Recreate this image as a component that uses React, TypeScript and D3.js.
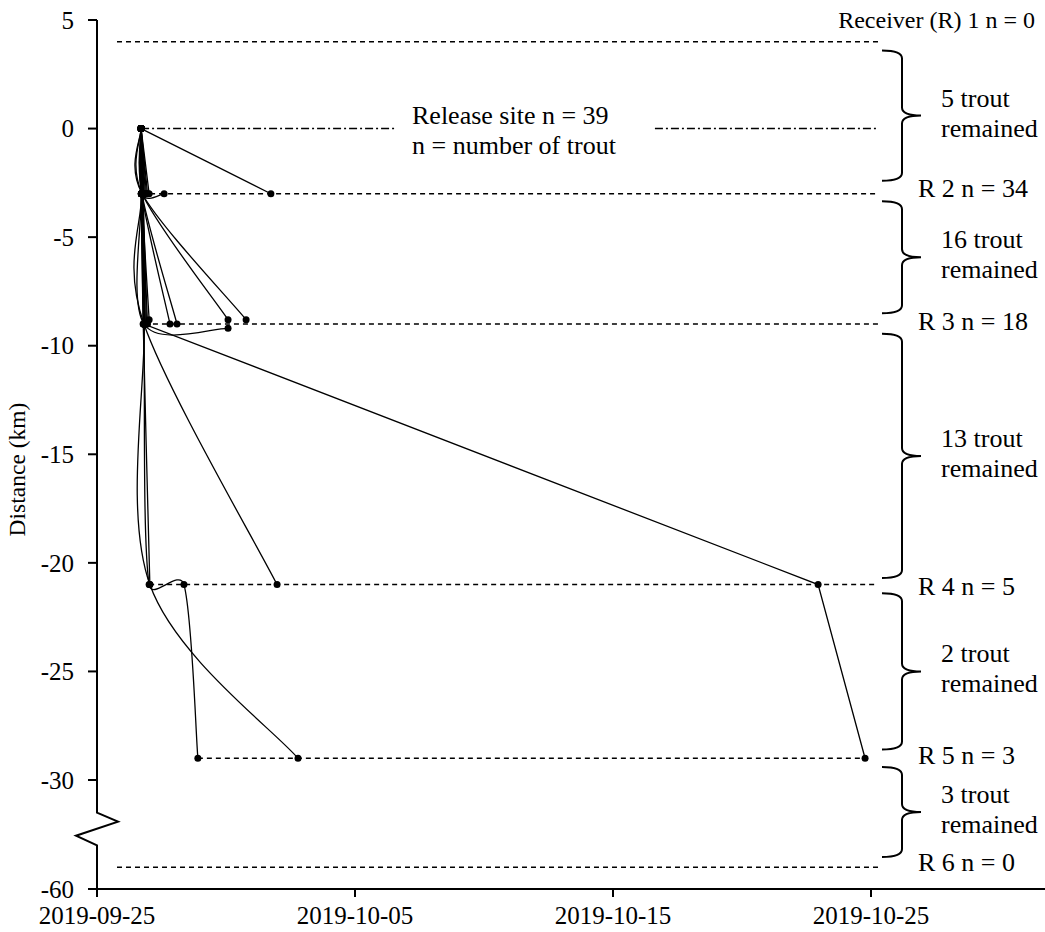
import React from "react";
import * as d3 from "d3";

const parse = d3.timeParse("%Y-%m-%d %H:%M");

// receivers (km from release site) and labels
const receiverKm = [4, -3, -9, -21, -29, -54];
const receiverLabels = ["Receiver (R) 1 n = 0", "R 2 n = 34", "R 3 n = 18", "R 4 n = 5", "R 5 n = 3", "R 6 n = 0"];
const receiverFrom = ["2019-09-25 18:36", "2019-09-26 17:00", "2019-09-26 19:40", "2019-09-27 00:30", "2019-09-28 21:50", "2019-09-25 18:36"];
const receiverTo = ["2019-10-25 06:30", "2019-10-25 06:30", "2019-10-25 06:30", "2019-10-25 06:30", "2019-10-24 18:29", "2019-10-25 06:30"];

// release site line (dash-dot, broken for the text)
const releaseTime = "2019-09-26 17:00";
const releaseGap = ["2019-10-06 15:00", "2019-10-16 15:00"];

// braces between receivers: top km, bottom km, trout remained
const braceTop = [3.6, -3.35, -9.45, -21.4, -29.4];
const braceBottom = [-2.4, -8.5, -20.7, -28.6, -51.2];
const remained = [5, 16, 13, 2, 3];

const xTicks = ["2019-09-25 00:00", "2019-10-05 00:00", "2019-10-15 00:00", "2019-10-25 00:00"];
const yTicks = [5, 0, -5, -10, -15, -20, -25, -30, -60];

const R = releaseTime;
// one entry per trout: detections [time, km] (smoothed line)
const tracks: [string, number][][] = [
  // not detected after release
  [[R, 0]], [[R, 0]], [[R, 0]], [[R, 0]], [[R, 0]],
  // stopped between R2 and R3
  [[R, 0], ["2019-09-26 17:10", -3]],
  [[R, 0], ["2019-09-26 17:20", -3]],
  [[R, 0], ["2019-09-26 17:40", -3]],
  [[R, 0], ["2019-09-26 18:00", -3]],
  [[R, 0], ["2019-09-26 18:30", -3]],
  [[R, 0], ["2019-09-26 19:00", -3]],
  [[R, 0], ["2019-09-26 20:00", -3]],
  [[R, 0], ["2019-09-26 22:00", -3]],
  [[R, 0], ["2019-09-27 00:30", -3]],
  [[R, 0], ["2019-09-26 18:00", -3], ["2019-09-27 14:25", -3]],
  [[R, 0], ["2019-10-01 17:45", -3]],
  [[R, 0], ["2019-09-26 17:30", -3]],
  [[R, 0], ["2019-09-26 19:30", -3]],
  [[R, 0], ["2019-09-26 21:00", -3]],
  [[R, 0], ["2019-09-26 17:50", -3]],
  [[R, 0], ["2019-09-26 23:00", -3]],
  // stopped between R3 and R4
  [[R, 0], ["2019-09-26 17:30", -3], ["2019-09-26 19:40", -9]],
  [[R, 0], ["2019-09-26 18:00", -3], ["2019-09-26 20:30", -9]],
  [[R, 0], ["2019-09-26 17:40", -3], ["2019-09-27 00:30", -8.8]],
  [[R, 0], ["2019-09-26 17:30", -3], ["2019-09-27 19:55", -9]],
  [[R, 0], ["2019-09-26 17:40", -3], ["2019-09-28 02:25", -9]],
  [[R, 0], ["2019-09-26 18:00", -3], ["2019-09-30 01:55", -8.8]],
  [[R, 0], ["2019-09-26 18:00", -3], ["2019-09-30 18:43", -8.8]],
  [[R, 0], ["2019-09-26 17:20", -3], ["2019-09-26 19:40", -9], ["2019-09-30 01:55", -9.2]],
  [[R, 0], ["2019-09-26 17:10", -3], ["2019-09-26 19:00", -9]],
  [[R, 0], ["2019-09-26 18:30", -3], ["2019-09-26 21:00", -9]],
  [[R, 0], ["2019-09-26 19:00", -3], ["2019-09-26 22:00", -9]],
  [[R, 0], ["2019-09-26 17:50", -3], ["2019-09-26 20:00", -9]],
  [[R, 0], ["2019-09-26 18:00", -3], ["2019-09-26 23:00", -9]],
  // stopped between R4 and R5
  [[R, 0], ["2019-09-26 17:30", -3], ["2019-09-26 19:40", -9], ["2019-10-01 23:30", -21]],
  [[R, 0], ["2019-09-26 17:20", -3], ["2019-09-26 19:00", -9], ["2019-09-27 01:10", -21]],
  // reached R5
  [[R, 0], ["2019-09-26 17:30", -3], ["2019-09-26 20:00", -9], ["2019-09-27 01:10", -21], ["2019-10-02 19:00", -29]],
  [[R, 0], ["2019-09-26 17:40", -3], ["2019-09-26 19:40", -9], ["2019-09-27 00:30", -21], ["2019-09-28 08:53", -21], ["2019-09-28 21:50", -29]],
];
// trout drawn with straight segments
const straightTracks: [string, number][][] = [
  [[R, 0], ["2019-09-26 17:10", -3], ["2019-09-26 19:40", -9], ["2019-10-22 22:48", -21], ["2019-10-24 18:29", -29]],
];

const W = 1045;
const H = 932;
const font = "Liberation Serif, Times New Roman, serif";

// spreadsheet-style smoothing: Catmull-Rom beziers, control arms limited to half the segment
function smoothCurve(context: any) {
  let pts: [number, number][] = [];
  return {
    areaStart() {},
    areaEnd() {},
    lineStart() { pts = []; },
    point(px: number, py: number) { pts.push([px, py]); },
    lineEnd() {
      const n = pts.length;
      if (!n) return;
      context.moveTo(pts[0][0], pts[0][1]);
      for (let i = 0; i < n - 1; i++) {
        const p0 = pts[Math.max(i - 1, 0)], p1 = pts[i], p2 = pts[i + 1], p3 = pts[Math.min(i + 2, n - 1)];
        const lim = Math.hypot(p2[0] - p1[0], p2[1] - p1[1]) * 0.5;
        const arm = (dx: number, dy: number) => {
          const m = Math.hypot(dx, dy);
          const s = m > lim ? lim / m : 1;
          return [dx * s, dy * s];
        };
        const a = arm((p2[0] - p0[0]) / 6, (p2[1] - p0[1]) / 6);
        const b = arm((p3[0] - p1[0]) / 6, (p3[1] - p1[1]) / 6);
        context.bezierCurveTo(p1[0] + a[0], p1[1] + a[1], p2[0] - b[0], p2[1] - b[1], p2[0], p2[1]);
      }
    },
  };
}

export default function App() {
  const x = d3.scaleTime()
    .domain([parse("2019-09-25 00:00")!, parse("2019-11-01 00:00")!])
    .range([97, 97 + 37 * 25.8]);
  // broken axis: -30..-60 squeezed below the break
  const y = d3.scaleLinear().domain([-60, -30, 5]).range([889, 780, 20]);

  const smooth = d3.line<[string, number]>()
    .x(d => x(parse(d[0])!))
    .y(d => y(d[1]))
    .curve(smoothCurve as any);
  const straight = d3.line<[string, number]>()
    .x(d => x(parse(d[0])!))
    .y(d => y(d[1]));

  const x0 = x.range()[0];
  const yBase = y(-60);
  const bTop = y(-39);
  const bBot = y(-48);
  const axisPath = `M${x0},${y(5)}L${x0},${bTop}L${x0 + 21},${bTop + 9}L${x0 - 21},${bTop + 23}L${x0},${bBot}L${x0},${yBase}`;

  const relY = y(0);
  const labelDy = [-14, 3, 6, 10, 6, 4];

  const brace = (t: number, b: number) => {
    const y1 = y(t), y2 = y(b), ym = (y1 + y2) / 2;
    const xl = 882, xb = 902, xt = 921, r = 8;
    return `M${xl},${y1}Q${xb},${y1} ${xb},${y1 + r}L${xb},${ym - r}Q${xb},${ym} ${xt},${ym}` +
      `Q${xb},${ym} ${xb},${ym + r}L${xb},${y2 - r}Q${xb},${y2} ${xl},${y2}`;
  };

  const allTracks = tracks.concat(straightTracks);

  return (
    <svg width={W} height={H} style={{ position: "absolute", left: 0, top: 0, background: "#fff" }} fontFamily={font}>
      {/* receiver lines */}
      {receiverKm.map((km, i) => (
        <line key={"r" + i} x1={x(parse(receiverFrom[i])!)} x2={x(parse(receiverTo[i])!)} y1={y(km)} y2={y(km)}
          stroke="#000" strokeWidth={1.5} strokeDasharray="5,4" />
      ))}
      <line x1={x(parse(releaseTime)!)} x2={x(parse(releaseGap[0])!)} y1={relY} y2={relY}
        stroke="#000" strokeWidth={1.4} strokeDasharray="8,3,2,3" />
      <line x1={x(parse(releaseGap[1])!)} x2={x(parse(receiverTo[0])!)} y1={relY} y2={relY}
        stroke="#000" strokeWidth={1.4} strokeDasharray="8,3,2,3" />

      {/* tracks */}
      {tracks.filter(t => t.length > 1).map((t, i) => (
        <path key={"t" + i} d={smooth(t) || ""} fill="none" stroke="#000" strokeWidth={1.3} />
      ))}
      {straightTracks.map((t, i) => (
        <path key={"s" + i} d={straight(t) || ""} fill="none" stroke="#000" strokeWidth={1.3} />
      ))}
      {allTracks.flatMap((t, i) => t.map((d, j) => (
        <circle key={`p${i}-${j}`} cx={x(parse(d[0])!)} cy={y(d[1])} r={3.5} fill="#000" />
      )))}

      {/* axes */}
      <path d={axisPath} fill="none" stroke="#000" strokeWidth={2} />
      <line x1={x0} x2={W} y1={yBase} y2={yBase} stroke="#000" strokeWidth={2} />
      {yTicks.map(v => (
        <g key={"yt" + v}>
          <line x1={x0 - 9} x2={x0} y1={y(v)} y2={y(v)} stroke="#000" strokeWidth={2} />
          <text x={x0 - 23} y={y(v)} dy="0.35em" textAnchor="end" fontSize={25}>{v}</text>
        </g>
      ))}
      {xTicks.map(s => (
        <g key={s}>
          <line x1={x(parse(s)!)} x2={x(parse(s)!)} y1={yBase} y2={yBase + 8} stroke="#000" strokeWidth={2} />
          <text x={x(parse(s)!)} y={924} textAnchor="middle" fontSize={25}>{s.slice(0, 10)}</text>
        </g>
      ))}
      <text transform={`translate(25,${(y(5) + yBase) / 2 + 15}) rotate(-90)`} textAnchor="middle" fontSize={23.5}>Distance (km)</text>

      {/* annotations */}
      {receiverLabels.map((s, i) => (
        <text key={s} x={i === 0 ? 1035 : 918} y={y(receiverKm[i]) + labelDy[i]} textAnchor={i === 0 ? "end" : "start"} fontSize={i === 0 ? 24 : 26}>{s}</text>
      ))}
      <text x={412} y={relY - 5} fontSize={26}>Release site n = 39</text>
      <text x={412} y={relY + 25} fontSize={26}>n = number of trout</text>
      {remained.map((n, i) => {
        const ym = (y(braceTop[i]) + y(braceBottom[i])) / 2;
        return (
          <g key={"b" + i}>
            <path d={brace(braceTop[i], braceBottom[i])} fill="none" stroke="#000" strokeWidth={2} />
            <text x={941} y={ym - 9} fontSize={26}>{n} trout</text>
            <text x={941} y={ym + 21} fontSize={26}>remained</text>
          </g>
        );
      })}
    </svg>
  );
}
